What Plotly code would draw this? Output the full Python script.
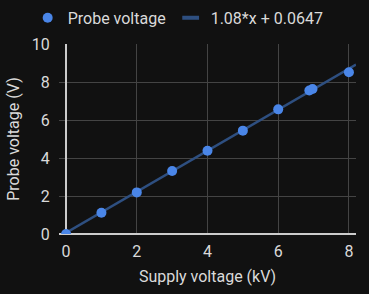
import plotly.graph_objects as go

supply_kv = [0, 1, 2, 3, 4, 5, 6, 6.88, 6.97, 8]
probe_v = [0, 1.12, 2.19, 3.32, 4.38, 5.44, 6.56, 7.55, 7.63, 8.51]
fit_slope = 1.08
fit_intercept = 0.0647
x_range = [-0.2, 8.2]
y_range = [0, 10]

fit_x = x_range
fit_y = [fit_slope * v + fit_intercept for v in fit_x]

marker_color = "#4a86e8"
line_color = "#2e4f80"

fig = go.Figure()
# fit line (drawn below the markers), legend entry provided separately
fig.add_trace(go.Scatter(
    x=fit_x, y=fit_y, mode="lines", showlegend=False,
    line=dict(color=line_color, width=2.5), hoverinfo="skip",
))
fig.add_trace(go.Scatter(
    x=supply_kv, y=probe_v, mode="markers", name="Probe voltage",
    marker=dict(color=marker_color, size=10), legendrank=1,
))
# legend-only entry for the fit line (short thick dash swatch)
fig.add_trace(go.Scatter(
    x=[None], y=[None], mode="markers", name=f"{fit_slope}*x + {fit_intercept}",
    marker=dict(symbol="line-ew", size=12, line=dict(color=line_color, width=4)),
    legendrank=2,
))

font = dict(family="Roboto, Arial, sans-serif", size=16, color="#dadada")
fig.update_layout(
    width=369, height=294,
    margin=dict(l=59, r=13, t=44, b=60, autoexpand=False),
    paper_bgcolor="#111111", plot_bgcolor="#111111",
    font=font,
    showlegend=True,
    legend=dict(orientation="h", xref="container", x=0.075, xanchor="left",
                yref="container", y=0.997, yanchor="top",
                font=dict(size=16), bgcolor="rgba(0,0,0,0)", itemwidth=30),
    xaxis=dict(range=x_range, dtick=2, showgrid=True, gridcolor="#444444",
               zeroline=True, zerolinecolor="#cccccc", zerolinewidth=1.5,
               automargin=False,
               title=dict(text="Supply voltage (kV)", standoff=10, font=dict(size=16)),
               ticks="outside", ticklen=3, tickcolor="rgba(0,0,0,0)", showline=False),
    yaxis=dict(range=y_range, dtick=2, showgrid=True, gridcolor="#444444",
               zeroline=True, zerolinecolor="#cccccc", zerolinewidth=1.5,
               automargin=False,
               title=dict(text="Probe voltage (V)", standoff=8, font=dict(size=16)),
               ticks="outside", ticklen=5, tickcolor="rgba(0,0,0,0)", showline=False),
)
fig.write_html("out.html")
